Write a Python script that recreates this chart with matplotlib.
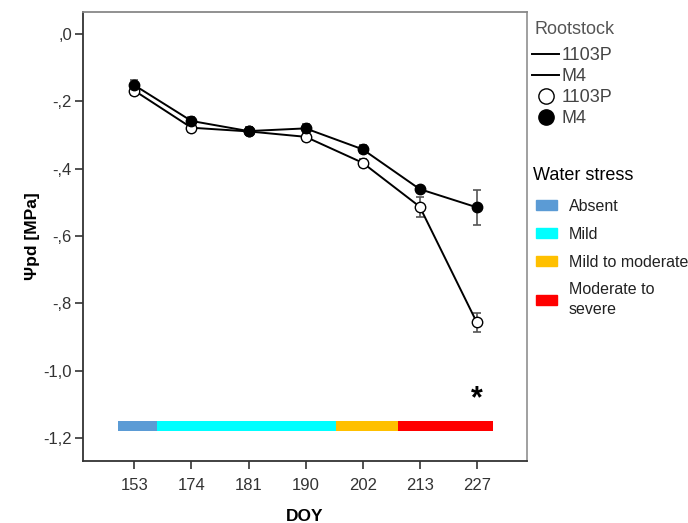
import numpy as np
import matplotlib.pyplot as plt
from matplotlib.lines import Line2D
from matplotlib.patches import Patch

plt.rcParams['font.family'] = ['Liberation Sans', 'DejaVu Sans']

# DOY sampling dates (categorical axis)
doy = ['153', '174', '181', '190', '202', '213', '227']

# predawn water potential, MPa
m4 = [-0.153, -0.259, -0.289, -0.281, -0.343, -0.461, -0.515]
m4_err = [0.015, 0.013, 0.012, 0.012, 0.012, 0.010, 0.052]
p1103 = [-0.169, -0.279, -0.290, -0.306, -0.383, -0.513, -0.856]
p1103_err = [0.012, 0.014, 0.012, 0.012, 0.012, 0.030, 0.028]

# water stress bands along the DOY axis (start, end in axis units)
stress_labels = ['Absent', 'Mild', 'Mild to moderate', 'Moderate to\nsevere']
stress_colors = ['#5b9bd5', '#00ffff', '#ffc000', '#ff0000']
stress_edges = [-0.28, 0.40, 3.53, 4.62, 6.28]

W, H = 688, 523
fig = plt.figure(figsize=(W/100, H/100), dpi=100)
ax = fig.add_axes([83/W, 1-461/H, (527-83)/W, (461-12)/H])

x = np.arange(len(doy))

for y, e, face in [(p1103, p1103_err, 'white'), (m4, m4_err, 'black')]:
    ax.errorbar(x, y, yerr=e, fmt='none', ecolor='#555555', elinewidth=1.2,
                capsize=3, capthick=1.2, zorder=2)
    ax.plot(x, y, color='black', lw=1.4, zorder=3)
    ax.plot(x, y, ls='none', marker='o', ms=7.5, mfc=face, mec='black',
            mew=1.0, zorder=4)

# stress bar
for i in range(len(stress_colors)):
    ax.barh(-1.163, stress_edges[i+1] - stress_edges[i], left=stress_edges[i],
            height=0.03, color=stress_colors[i], zorder=2)

ax.text(6, -1.085, '*', ha='center', va='center', fontsize=22,
        fontweight='bold')

ax.set_xlim(-0.9, 6.88)
ax.set_ylim(-1.267, 0.064)
ax.set_xticks(x)
ax.set_xticklabels(doy)
yt = [0, -0.2, -0.4, -0.6, -0.8, -1.0, -1.2]
ax.set_yticks(yt)
ax.set_yticklabels([',0', '-,2', '-,4', '-,6', '-,8', '-1,0', '-1,2'])
ax.tick_params(labelsize=12, colors='#333333', length=6, width=1.2,
               labelcolor='#333333')
ax.tick_params(axis='y', pad=2)
ax.tick_params(axis='x', pad=6)
ax.spines['left'].set_color('#333333')
ax.spines['bottom'].set_color('#333333')
ax.spines['top'].set_color('#888888')
ax.spines['right'].set_color('#999999')
for s in ax.spines.values():
    s.set_linewidth(1.3)

ax.set_xlabel('DOY', fontsize=12.5, fontweight='bold', labelpad=12)
ax.set_ylabel('Ψpd [MPa]', fontsize=12.5, fontweight='bold', labelpad=2)

# legends
fig.text(535/W, 1-30/H, 'Rootstock', fontsize=13, color='#555555',
         ha='left', va='center')
root_handles = [
    Line2D([], [], color='black', lw=1.4),
    Line2D([], [], color='black', lw=1.4),
    Line2D([], [], ls='none', marker='o', ms=11, mfc='white', mec='black', mew=1),
    Line2D([], [], ls='none', marker='o', ms=11, mfc='black', mec='black'),
]
leg1 = fig.legend(root_handles, ['1103P', 'M4', '1103P', 'M4'],
                  loc='upper left', bbox_to_anchor=(532/W, 1-47/H),
                  frameon=False, fontsize=13, handlelength=1.5,
                  handletextpad=0.15, labelspacing=0.22,
                  borderaxespad=0, borderpad=0)
for t in leg1.get_texts():
    t.set_color('#444444')

fig.text(533/W, 1-175/H, 'Water stress', fontsize=13, color='black',
         ha='left', va='center')
stress_handles = [Patch(color=c) for c in stress_colors]
leg2 = fig.legend(stress_handles, stress_labels,
                  loc='upper left', bbox_to_anchor=(536/W, 1-199/H),
                  frameon=False, fontsize=11.5,
                  handlelength=1.3, handleheight=0.6, handletextpad=0.75,
                  labelspacing=0.8, borderaxespad=0, borderpad=0)
for t in leg2.get_texts():
    t.set_color('#222222')
    t.set_linespacing(1.35)

fig.savefig('out.png', dpi=100)
